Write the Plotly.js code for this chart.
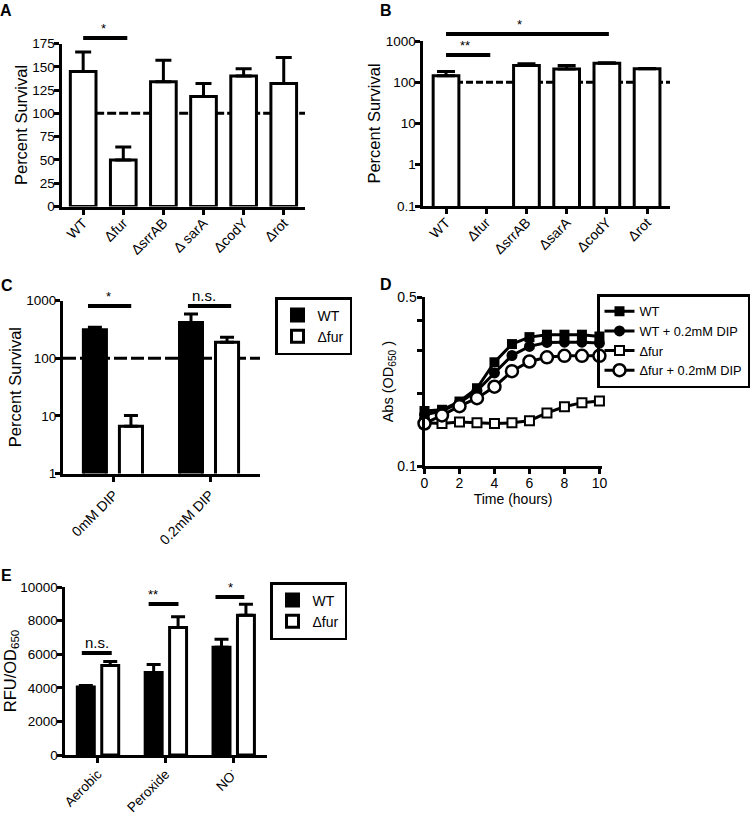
<!DOCTYPE html>
<html>
<head>
<meta charset="utf-8">
<script src="https://cdn.plot.ly/plotly-3.0.1.min.js"></script>
<style>html,body{margin:0;padding:0;background:#fff;}#chart{width:750px;height:814px;}</style>
</head>
<body>
<div id="chart"></div>
<script>
// ---------- DATA ----------
// Panel A
const strainsA = ['WT', 'Δfur', 'ΔsrrAB', 'Δ sarA', 'ΔcodY', 'Δrot'];
const survivalA = [145, 50, 134, 118, 140, 132];
const survivalAErrTop = [166, 64, 157, 132, 148, 160];
// Panel B
const strainsB = ['WT', 'Δfur', 'ΔsrrAB', 'ΔsarA', 'ΔcodY', 'Δrot'];
const survivalB = [143, null, 256, 210, 290, 212];
const survivalBErrTop = [182, null, 279, 254, 297, 216];
// Panel C
const conditionsC = ['0mM DIP', '0.2mM DIP'];
const survivalC_WT = [314, 420];
const survivalC_WTErrTop = [345, 588];
const survivalC_fur = [6.6, 190];
const survivalC_furErrTop = [10.2, 231];
// Panel D
const timeD = [0, 1, 2, 3, 4, 5, 6, 7, 8, 9, 10];
const odWT = [0.169, 0.171, 0.185, 0.210, 0.269, 0.320, 0.342, 0.350, 0.350, 0.350, 0.344];
const odWTDIP = [0.163, 0.169, 0.183, 0.205, 0.243, 0.287, 0.313, 0.325, 0.326, 0.326, 0.323];
const odFur = [0.151, 0.150, 0.152, 0.151, 0.150, 0.151, 0.154, 0.166, 0.176, 0.183, 0.186];
const odFurDIP = [0.150, 0.162, 0.177, 0.191, 0.213, 0.247, 0.271, 0.282, 0.286, 0.286, 0.286];
const yMajorD = [0.1, 0.5];
const yMinorD = [0.2, 0.3, 0.4];
// Panel E
const conditionsE = ['Aerobic', 'Peroxide', 'NO<sup>·</sup>'];
const rfuWT = [4043, 4911, 6410];
const rfuWTErrTop = [4142, 5385, 6884];
const rfuFur = [5325, 7594, 8323];
const rfuFurErrTop = [5562, 8225, 8974];

// ---------- HELPERS ----------
const FONT = 'Liberation Sans, Arial, Helvetica, sans-serif';
const up = (v, t) => v.map((x, i) => (x == null ? null : t[i] - x));
const zeros = v => v.map(() => 0);
const py = p => 1 - p / 814;   // pixel row -> paper y
const px = p => p / 750;       // pixel col -> paper x

function errBar(vals, tops, w) {
  return {type: 'data', symmetric: false, array: up(vals, tops), arrayminus: zeros(vals),
          color: '#000', thickness: 3, width: w, visible: true};
}
function axisBase(extra) {
  return Object.assign({
    showline: true, linecolor: '#000', linewidth: 3, ticks: 'outside', tickwidth: 3,
    ticklen: 5, tickcolor: '#000', showgrid: false, zeroline: false, fixedrange: true,
    tickfont: {family: FONT, size: 14, color: '#000'}, mirror: false
  }, extra);
}
const yTickFont = {family: FONT, size: 13.5, color: '#000'};

// ---------- TRACES ----------
const traces = [];
// A
traces.push({type: 'bar', x: strainsA, y: survivalA, xaxis: 'x', yaxis: 'y', width: 0.64,
  marker: {color: '#fff', line: {color: '#000', width: 3}}, error_y: errBar(survivalA, survivalAErrTop, 8),
  showlegend: false, hoverinfo: 'skip'});
// B
traces.push({type: 'bar', x: strainsB, y: survivalB, xaxis: 'x2', yaxis: 'y2', width: 0.64,
  marker: {color: '#fff', line: {color: '#000', width: 3}}, error_y: errBar(survivalB, survivalBErrTop, 9),
  showlegend: false, hoverinfo: 'skip'});
// C
traces.push({type: 'bar', name: 'WT', x: conditionsC, y: survivalC_WT, xaxis: 'x3', yaxis: 'y3',
  width: 0.24, offset: -0.318, marker: {color: '#000', line: {color: '#000', width: 3}},
  error_y: errBar(survivalC_WT, survivalC_WTErrTop, 7), legend: 'legend', hoverinfo: 'skip'});
traces.push({type: 'bar', name: 'Δfur', x: conditionsC, y: survivalC_fur, xaxis: 'x3', yaxis: 'y3',
  width: 0.24, offset: 0.057, marker: {color: '#fff', line: {color: '#000', width: 3}},
  error_y: errBar(survivalC_fur, survivalC_furErrTop, 7), legend: 'legend', hoverinfo: 'skip'});
// D
const lineD = {color: '#000', width: 3};
traces.push({type: 'scatter', mode: 'lines+markers', name: 'WT', x: timeD, y: odWT, xaxis: 'x4', yaxis: 'y4',
  line: lineD, marker: {symbol: 'square', size: 10, color: '#000'}, cliponaxis: false, legend: 'legend2', hoverinfo: 'skip'});
traces.push({type: 'scatter', mode: 'lines+markers', name: 'WT + 0.2mM DIP', x: timeD, y: odWTDIP, xaxis: 'x4', yaxis: 'y4',
  line: lineD, marker: {symbol: 'circle', size: 11, color: '#000'}, cliponaxis: false, legend: 'legend2', hoverinfo: 'skip'});
traces.push({type: 'scatter', mode: 'lines+markers', name: 'Δfur', x: timeD, y: odFur, xaxis: 'x4', yaxis: 'y4',
  line: lineD, marker: {symbol: 'square', size: 9, color: '#fff', line: {color: '#000', width: 2}}, cliponaxis: false, legend: 'legend2', hoverinfo: 'skip'});
traces.push({type: 'scatter', mode: 'lines+markers', name: 'Δfur + 0.2mM DIP', x: timeD, y: odFurDIP, xaxis: 'x4', yaxis: 'y4',
  line: lineD, marker: {symbol: 'circle', size: 12, color: '#fff', line: {color: '#000', width: 2.5}}, cliponaxis: false, legend: 'legend2', hoverinfo: 'skip'});
// E
traces.push({type: 'bar', name: 'WT', x: conditionsE, y: rfuWT, xaxis: 'x5', yaxis: 'y5',
  width: 0.25, offset: -0.301, marker: {color: '#000', line: {color: '#000', width: 3}},
  error_y: errBar(rfuWT, rfuWTErrTop, 7), legend: 'legend3', hoverinfo: 'skip'});
traces.push({type: 'bar', name: 'Δfur', x: conditionsE, y: rfuFur, xaxis: 'x5', yaxis: 'y5',
  width: 0.25, offset: 0.059, marker: {color: '#fff', line: {color: '#000', width: 3}},
  error_y: errBar(rfuFur, rfuFurErrTop, 7), legend: 'legend3', hoverinfo: 'skip'});

// ---------- LAYOUT ----------
const titleFont = {family: FONT, size: 16.5, color: '#000'};
const legendBase = {bgcolor: 'rgba(255,255,255,0)', bordercolor: '#000', borderwidth: 2.5,
  font: {family: FONT, size: 14, color: '#000'}, xanchor: 'left', yanchor: 'top', tracegroupgap: 0};

const sig = (xref, x0, x1, yp) => ({type: 'line', xref: xref, yref: 'paper', x0: x0, x1: x1,
  y0: py(yp), y1: py(yp), line: {color: '#000', width: 4}});
const sigText = (xref, x, yp, txt, size) => ({xref: xref, yref: 'paper', x: x, y: py(yp), text: txt,
  showarrow: false, yanchor: 'bottom', font: {family: FONT, size: size || 13, color: '#000'}});
const dash100 = (xref, yref, x0, x1, dash) => ({type: 'line', xref: xref, yref: yref, x0: x0, x1: x1,
  y0: 100, y1: 100, layer: 'below', line: {color: '#000', width: 3, dash: dash}});
const panelLabel = (t, x, y) => ({xref: 'paper', yref: 'paper', x: px(x), y: py(y), text: '<b>' + t + '</b>',
  showarrow: false, xanchor: 'center', yanchor: 'middle', font: {family: FONT, size: 16, color: '#000'}});

const layout = {
  width: 750, height: 814, margin: {l: 0, r: 0, t: 0, b: 0},
  paper_bgcolor: '#fff', plot_bgcolor: 'rgba(0,0,0,0)', barmode: 'overlay',
  font: {family: FONT, color: '#000'},
  // A
  xaxis: axisBase({domain: [px(61.5), px(305)], anchor: 'y', type: 'category', range: [-0.54, 5.53],
    tickangle: -45, ticklabelstandoff: -5}),
  yaxis: axisBase({domain: [py(206.5), py(43.5)], anchor: 'x', range: [0, 175], dtick: 25, ticklabelstandoff: -4,
    tickfont: yTickFont, title: {text: 'Percent Survival', font: titleFont, standoff: 1}}),
  // B
  xaxis2: axisBase({domain: [px(422.5), px(670)], anchor: 'y2', type: 'category', range: [-0.585, 5.57],
    tickangle: -45, ticklabelstandoff: -5}),
  yaxis2: axisBase({domain: [py(206), py(41)], anchor: 'x2', type: 'log', range: [-1, 3], ticklabelstandoff: -4,
    tickvals: [0.1, 1, 10, 100, 1000], ticktext: ['0.1', '1', '10', '100', '1000'],
    tickfont: yTickFont, title: {text: 'Percent Survival', font: titleFont, standoff: 1}}),
  // C
  xaxis3: axisBase({domain: [px(63), px(260)], anchor: 'y3', type: 'category', range: [-0.53, 1.52], tickangle: -45}),
  yaxis3: axisBase({domain: [py(473.5), py(300.7)], anchor: 'x3', type: 'log', range: [0, 3], ticklabelstandoff: -4,
    tickvals: [1, 10, 100, 1000], ticktext: ['1', '10', '100', '1000'],
    tickfont: yTickFont, title: {text: 'Percent Survival', font: titleFont, standoff: 1}}),
  // D
  xaxis4: axisBase({domain: [px(424.5), px(601.7)], anchor: 'y4', range: [0, 10.13], tickvals: [0, 2, 4, 6, 8, 10],
    ticklabelstandoff: -3,
    title: {text: 'Time (hours)', font: {family: FONT, size: 14, color: '#000'}, standoff: 1}}),
  yaxis4: axisBase({domain: [py(466), py(297.3)], anchor: 'x4', type: 'log', range: [-1, Math.log10(0.5)],
    tickmode: 'array', tickvals: yMajorD, ticktext: yMajorD.map(String), ticklabelstandoff: -3,
    minor: {tickmode: 'array', tickvals: yMinorD, ticks: 'outside', ticklen: 5, tickwidth: 3, tickcolor: '#000', showgrid: false},
    title: {text: 'Abs (OD<sub>650</sub> )', font: {family: FONT, size: 14.5, color: '#000'}, standoff: 1}}),
  // E
  xaxis5: axisBase({domain: [px(64.5), px(266.7)], anchor: 'y5', type: 'category', range: [-0.49, 2.49], tickangle: -45,
    ticklabelstandoff: -2, tickfont: {family: FONT, size: 13.5, color: '#000'}}),
  yaxis5: axisBase({domain: [py(755), py(587)], anchor: 'x5', range: [0, 10000], dtick: 2000, tickformat: 'd',
    ticklabelstandoff: -4, tickfont: yTickFont,
    title: {text: 'RFU/OD<sub>650</sub>', font: titleFont, standoff: 0}}),
  legend: Object.assign({}, legendBase, {x: px(275), y: py(297)}),
  legend2: Object.assign({}, legendBase, {x: 1, xanchor: 'right', y: py(294), font: {family: FONT, size: 12.8, color: '#000'}}),
  legend3: Object.assign({}, legendBase, {x: px(270), y: py(582)}),
  shapes: [
    dash100('x', 'y', 0, 5.53, '9px,3px'),
    dash100('x2', 'y2', 0, 5.57, '7px,3px'),
    dash100('x3', 'y3', -0.53, 1.52, '13px,4px'),
    sig('x', 0, 1.1, 38),
    sig('x2', 0, 1.1, 55),
    sig('x2', 0, 4.05, 34),
    sig('x3', -0.27, 0.18, 306),
    sig('x3', 0.77, 1.22, 306),
    sig('x5', -0.235, 0.206, 653),
    sig('x5', 0.75, 1.19, 604),
    sig('x5', 1.735, 2.16, 597)
  ],
  annotations: [
    panelLabel('A', 6, 10), panelLabel('B', 386, 10), panelLabel('C', 7, 285),
    panelLabel('D', 386, 284), panelLabel('E', 6, 575),
    sigText('x', 0.5, 38, '*'),
    sigText('x2', 0.48, 55, '**'),
    sigText('x2', 1.83, 34, '*'),
    sigText('x3', -0.06, 306, '*'),
    sigText('x3', 0.94, 306, 'n.s.', 15),
    sigText('x5', -0.015, 653, 'n.s.', 15),
    sigText('x5', 0.82, 604, '**'),
    sigText('x5', 1.96, 597, '*')
  ]
};

Plotly.newPlot('chart', traces, layout, {staticPlot: true, displayModeBar: false});
</script>
</body>
</html>
